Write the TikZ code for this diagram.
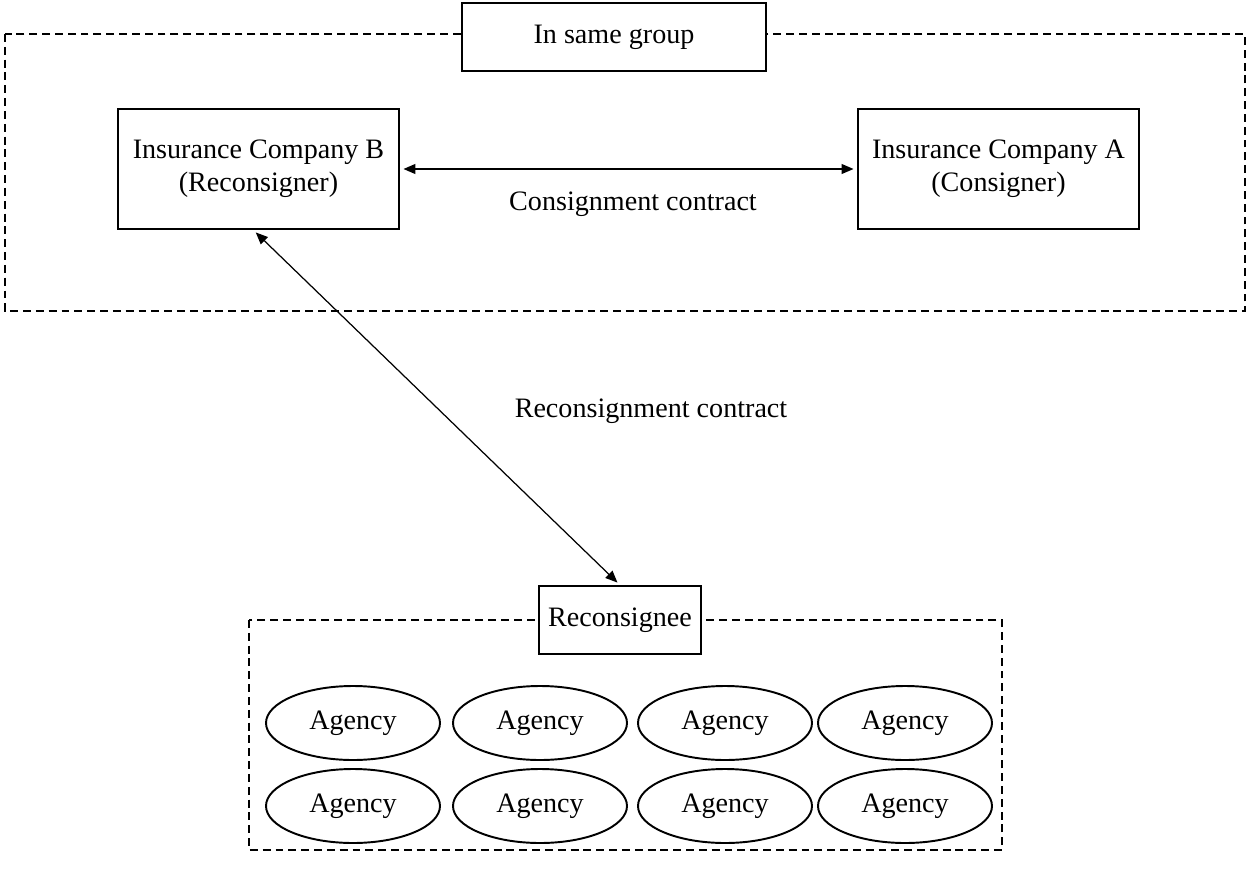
\documentclass[tikz,border=0pt]{standalone}
\usepackage{fontspec}
\setmainfont{Liberation Serif}
\usepackage{tikz}
\usetikzlibrary{shapes,arrows.meta,calc}

\begin{document}
\begin{tikzpicture}[
        font=\fontsize{16}{19}\selectfont,
        groupline/.style={draw, line width=0.9pt, dash pattern=on 4.5pt off 2.8pt},
        company/.style={draw, line width=1.1pt, fill=white, minimum width=5.62cm,
                        minimum height=2.4cm, align=center},
        tagbox/.style={draw, line width=1.1pt, fill=white, inner sep=0pt},
        agency/.style={draw, ellipse, line width=1.1pt, minimum width=3.48cm,
                       minimum height=1.48cm, inner sep=0pt},
        contract/.style={{Triangle[length=2.4mm,width=2mm]}-{Triangle[length=2.4mm,width=2mm]},
                         line width=0.7pt, shorten <=2pt, shorten >=2pt}
    ]
        \useasboundingbox (0,0) rectangle (24.94,-17.38);

        % group of the two companies
        \draw[groupline] (0.1,-0.68) rectangle (24.9,-6.22);
        \node[tagbox, minimum width=6.08cm, minimum height=1.36cm] (samegroup) at (12.28,-0.74) {In same group};

        % Companies
        \node[company] (compB) at (5.17,-3.38) {Insurance Company B\\(Reconsigner)};
        \node[company] (compA) at (19.97,-3.38) {Insurance Company A\\(Consigner)};

        \draw[contract] (compB.east) -- (compA.west);
        \node (consign) at (12.66,-4.08) {Consignment contract};

        % group of the reconsignee
        \draw[groupline] (4.98,-12.4) rectangle (20.04,-17.0);
        \node[tagbox, minimum width=3.24cm, minimum height=1.36cm] (recons) at (12.4,-12.4) {Reconsignee};

        \draw[contract] ([xshift=-3pt]compB.south) -- (recons.north);
        \node (reconsign) at (13.02,-8.22) {Reconsignment contract};

        % Agencies
        \foreach \x [count=\i] in {7.06,10.8,14.5,18.1} {
            \node[agency] (agencyTop\i) at (\x,-14.46) {Agency};
            \node[agency] (agencyBot\i) at (\x,-16.12) {Agency};
        }

\end{tikzpicture}
\end{document}
